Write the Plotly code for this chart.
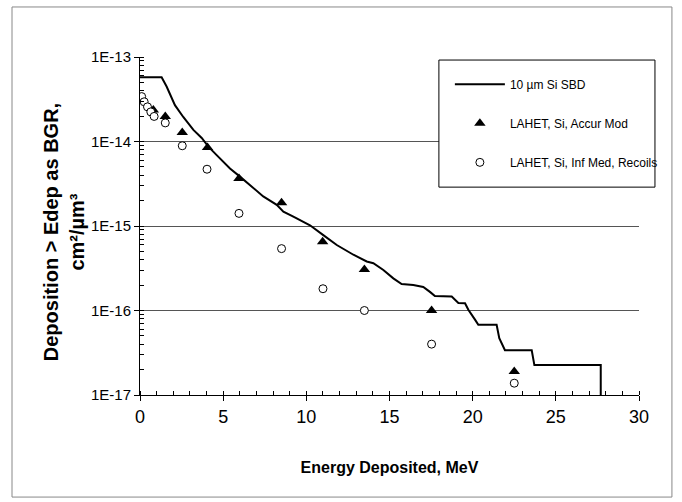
import plotly.graph_objects as go

# ---- data ----
sbd_energy = [0.0, 1.30, 1.60, 2.10, 2.60, 3.21, 3.71, 4.11, 4.61, 5.41, 6.01, 6.81, 7.41,
              8.22, 8.62, 9.22, 10.22, 11.02, 11.83, 12.83, 13.63, 14.03, 14.63, 15.23,
              15.73, 16.43, 17.03, 17.43, 17.73, 18.74, 19.14, 19.54, 19.74, 20.14, 20.34,
              21.44, 21.60, 21.94, 23.55, 23.71, 27.70, 27.70]
sbd_value = [5.75e-14, 5.75e-14, 4.47e-14, 2.69e-14, 1.95e-14, 1.37e-14, 1.10e-14, 8.7e-15,
             6.9e-15, 4.8e-15, 3.84e-15, 2.82e-15, 2.24e-15, 1.78e-15, 1.48e-15, 1.29e-15,
             1.02e-15, 7.8e-16, 5.96e-16, 4.57e-16, 3.8e-16, 3.63e-16, 3.02e-16, 2.4e-16,
             2.06e-16, 2.0e-16, 1.9e-16, 1.66e-16, 1.48e-16, 1.46e-16, 1.23e-16, 1.22e-16,
             1.02e-16, 7.8e-17, 6.76e-17, 6.76e-17, 4.7e-17, 3.39e-17, 3.39e-17, 2.26e-17,
             2.26e-17, 5e-18]

accur_energy = [0.80, 1.52, 2.54, 4.06, 5.95, 8.51, 10.98, 13.49, 17.53, 22.5]
accur_value = [2.36e-14, 1.98e-14, 1.28e-14, 8.5e-15, 3.66e-15, 1.88e-15, 6.5e-16, 3.05e-16,
               1.0e-16, 1.9e-17]

inf_energy = [0.10, 0.25, 0.45, 0.65, 0.85, 1.52, 2.54, 4.03, 5.95, 8.51, 11.0, 13.49, 17.53, 22.5]
inf_value = [3.4e-14, 2.95e-14, 2.57e-14, 2.24e-14, 1.98e-14, 1.66e-14, 8.9e-15, 4.7e-15,
             1.41e-15, 5.4e-16, 1.81e-16, 1.0e-16, 4.0e-17, 1.38e-17]

series_names = ["10 \u00b5m Si SBD", "LAHET, Si, Accur Mod", "LAHET, Si, Inf Med, Recoils"]
y_tick_vals = [1e-17, 1e-16, 1e-15, 1e-14, 1e-13]
y_tick_text = ["1E-17", "1E-16", "1E-15", "1E-14", "1E-13"]
y_title = "<b>Deposition > Edep as BGR,<br>cm\u00b2/\u00b5m\u00b3</b>"
x_title = "<b>Energy Deposited, MeV</b>"

SANS = "Liberation Sans, Arial, sans-serif"

fig = go.Figure()
fig.add_trace(go.Scatter(x=sbd_energy, y=sbd_value, mode="lines", name=series_names[0],
                         line=dict(color="black", width=2), legendgroup="a"))
fig.add_trace(go.Scatter(x=accur_energy, y=accur_value, mode="markers", name=series_names[1],
                         marker=dict(symbol="triangle-up", size=10, color="black"),
                         legendgroup="b"))
fig.add_trace(go.Scatter(x=inf_energy, y=inf_value, mode="markers", name=series_names[2],
                         marker=dict(symbol="circle", size=8, color="white",
                                     line=dict(color="black", width=1)),
                         legendgroup="c"))

fig.update_layout(
    width=682, height=502,
    margin=dict(l=140, r=43, t=57, b=107, autoexpand=False),
    paper_bgcolor="white", plot_bgcolor="white",
    showlegend=True,
    legend=dict(x=0.621, y=0.962, xanchor="left", yanchor="top",
                borderwidth=0, bgcolor="rgba(0,0,0,0)",
                font=dict(family=SANS, size=12, color="black"),
                traceorder="grouped", tracegroupgap=20, itemwidth=50),
    xaxis=dict(range=[0, 30], dtick=5, tick0=0, showline=True, linecolor="black",
               linewidth=1, ticks="outside", ticklen=5, tickcolor="black",
               showgrid=False, zeroline=False,
               minor=dict(ticks="inside", ticklen=4, tickcolor="black", dtick=1, showgrid=False),
               tickfont=dict(family=SANS, size=18, color="black"),
               title=dict(text=x_title,
                          font=dict(family=SANS, size=16, color="black"), standoff=36)),
    yaxis=dict(type="log", range=[-17, -13], tickmode="array", tickvals=y_tick_vals,
               ticktext=y_tick_text, showline=True, linecolor="black", linewidth=1,
               ticks="outside", ticklen=5, tickcolor="black",
               showgrid=True, gridcolor="#555555", gridwidth=1, zeroline=False,
               minor=dict(ticks="inside", ticklen=4, tickcolor="black", dtick="D1",
                          showgrid=False),
               tickfont=dict(family=SANS, size=15, color="black")),
    annotations=[dict(text=y_title, textangle=-90, xref="paper", yref="paper",
                      x=-0.152, y=0.482, xanchor="center", yanchor="middle",
                      showarrow=False, font=dict(family=SANS, size=20, color="black"))],
    shapes=[
        dict(type="rect", xref="paper", yref="paper",
             x0=-0.2565, x1=1.066, y0=-0.302, y1=1.148,
             line=dict(color="#888888", width=1), fillcolor="rgba(0,0,0,0)", layer="below"),
        dict(type="rect", xref="paper", yref="paper",
             x0=0.599, x1=1.032, y0=0.615, y1=0.991,
             line=dict(color="black", width=1), fillcolor="white", layer="above"),
    ],
)

fig.write_html("out.html", config={"displayModeBar": False},
               post_script="document.body.style.margin='0';")
